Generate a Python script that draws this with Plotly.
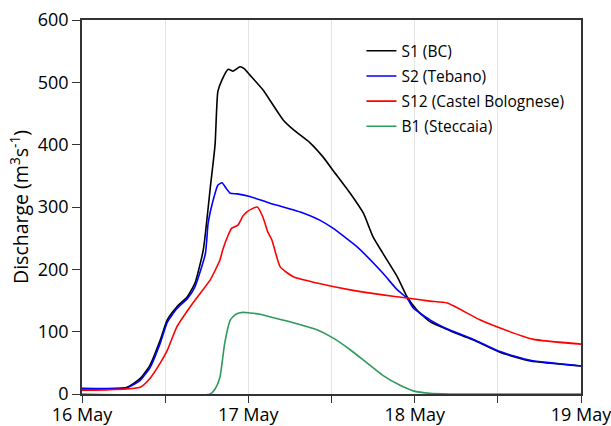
import pandas as pd
import plotly.graph_objects as go

# hours after 16 May 2023 00:00
s1_h = [0, 6.5, 8.4, 9.8, 11.3, 12.3, 13.7, 15.2, 16.3, 17.5, 18.5, 19.2, 19.6, 20.2, 21.1, 21.8, 22.8, 23.4,
        24.2, 26.1, 29.0, 30.5, 32.9, 34.8, 36.2, 38.7, 40.6, 42.0, 43.4, 45.5, 46.9, 48.3, 50.2, 53.0, 56.4,
        60.3, 64.7, 72.0]
s1_q = [8, 11, 25, 46, 87, 119, 140, 156, 178, 231, 330, 400, 485, 504, 521, 518, 525, 522,
        512, 488, 440, 424, 403, 380, 359, 322, 290, 252, 226, 188, 156, 135, 116, 102, 87,
        67, 53, 45]

s2_h = [0, 6.5, 8.4, 9.8, 11.3, 12.3, 13.7, 15.2, 16.3, 17.8, 18.2, 18.9, 19.6, 20.2, 20.8, 21.4, 22.4,
        24.2, 27.1, 30.0, 31.5, 34.3, 36.2, 39.7, 43.4, 45.5, 46.9, 47.8, 50.2, 53.0, 56.4, 60.3, 64.7, 72.0]
s2_q = [9, 10, 22, 42, 82, 115, 137, 153, 172, 225, 274, 310, 335, 339, 330, 322, 321,
        317, 306, 297, 292, 279, 266, 236, 194, 167, 154, 138, 119, 103, 88, 68, 54, 45]

s12_h = [0, 8.4, 9.8, 11.3, 12.3, 13.7, 16.0, 18.5, 19.9, 20.3, 21.1, 21.6, 22.5, 23.2, 23.8, 24.5, 25.3,
         26.1, 26.8, 27.4, 28.6, 30.5, 33.9, 38.7, 43.4, 46.9, 50.2, 52.7, 57.4, 61.0, 65.0, 72.0]
s12_q = [6, 11, 25, 50, 70, 108, 146, 183, 215, 231, 255, 266, 271, 285, 292, 297, 300,
         284, 260, 247, 204, 188, 178, 167, 159, 154, 149, 146, 119, 103, 88, 80]

b1_h = [0, 18.5, 19.2, 19.9, 20.6, 21.4, 22.2, 23.2, 24.2, 25.7, 27.1, 30.0, 33.9, 36.2, 38.7, 41.1, 43.4,
        45.9, 47.8, 50.2, 53.0, 72.0]
b1_q = [0, 0, 8, 27, 82, 119, 128, 131, 130, 128, 124, 116, 103, 90, 71, 50, 30,
        14, 5, 1, 0, 0]

names = ["S1 (BC)", "S2 (Tebano)", "S12 (Castel Bolognese)", "B1 (Steccaia)"]
colors = ["#000000", "#0000ff", "#ff0000", "#2e9a5c"]

start = pd.Timestamp("2023-05-16 00:00")
end = pd.Timestamp("2023-05-19 00:00")
def to_t(h):
    return [start + pd.Timedelta(hours=v) for v in h]

fig = go.Figure()
for i, (h, q) in enumerate([(s1_h, s1_q), (s2_h, s2_q), (s12_h, s12_q), (b1_h, b1_q)]):
    fig.add_trace(go.Scatter(x=to_t(h), y=q, mode="lines", name=names[i],
                             legendgroup=str(i),
                             line=dict(color=colors[i], width=1.6, shape="spline", smoothing=0.5)))

font_family = "Open Sans"
DAY = 86400000
fig.update_layout(
    width=611, height=426,
    margin=dict(l=82, r=30, t=20, b=32),
    paper_bgcolor="white", plot_bgcolor="white",
    font=dict(family=font_family, color="#000000", size=18),
    showlegend=True,
    legend=dict(x=0.56, y=0.962, xanchor="left", yanchor="top",
                font=dict(size=15.5, family=font_family), bgcolor="rgba(0,0,0,0)",
                traceorder="grouped", tracegroupgap=2, itemwidth=30),
    xaxis=dict(type="date", range=[start, end], automargin=False,
               tick0=start, dtick=DAY, tickformat="%-d %b", ticklabeloverflow="allow",
               ticks="outside", ticklen=7, tickcolor="#333", tickwidth=1.3,
               ticklabelstandoff=-3,
               showline=True, linecolor="#333", linewidth=1.5, mirror=True,
               showgrid=True, gridcolor="#e4e4e4", gridwidth=1,
               minor=dict(tick0=start, dtick=DAY / 2, ticks="outside", ticklen=7,
                          tickcolor="#333", tickwidth=1.3, showgrid=True, gridcolor="#e4e4e4"),
               tickfont=dict(size=18), zeroline=False),
    yaxis=dict(range=[0, 600], dtick=100, ticks="outside", ticklen=8, tickcolor="#333",
               automargin=False,
               tickwidth=1.3, showline=True, linecolor="#333", linewidth=1.5, mirror=True,
               showgrid=False, zeroline=False, tickfont=dict(size=18),
               title=dict(text="Discharge (m<sup>3</sup>s<sup>-1</sup>)", font=dict(size=19.5), standoff=4)),
)

fig.write_html("out.html")
